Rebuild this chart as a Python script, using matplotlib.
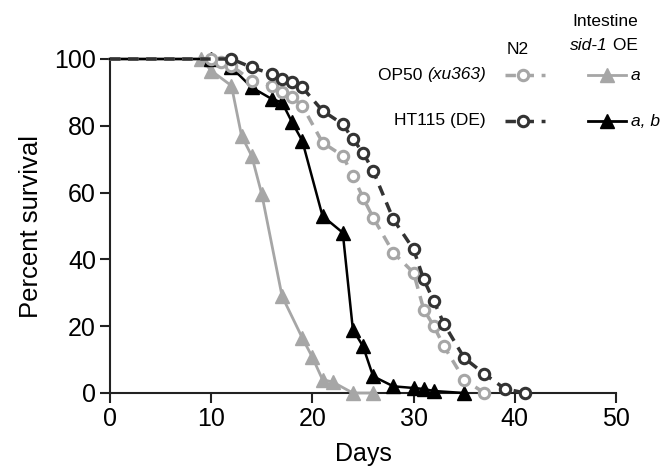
import matplotlib
matplotlib.use("Agg")
import matplotlib.pyplot as plt
from matplotlib.lines import Line2D

plt.rcParams['font.family'] = ['Liberation Sans', 'DejaVu Sans']

# ---- data ----
days_op50_n2 = [0, 10, 11, 12, 14, 16, 17, 18, 19, 21, 23, 24, 25, 26, 28, 30, 31, 32, 33, 35, 37]
surv_op50_n2 = [100, 100, 99, 98, 93.5, 92, 90, 88.5, 86, 75, 71, 65, 58.5, 52.5, 42, 36, 25, 20, 14, 4, 0]

days_ht_n2 = [0, 12, 14, 16, 17, 18, 19, 21, 23, 24, 25, 26, 28, 30, 31, 32, 33, 35, 37, 39, 41]
surv_ht_n2 = [100, 100, 97.5, 95.5, 94, 93, 91.5, 84.5, 80.5, 76, 72, 66.5, 52, 43, 34, 27.5, 20.7, 10.5, 5.7, 1.3, 0]

days_op50_sid = [0, 9, 10, 12, 13, 14, 15, 17, 19, 20, 21, 22, 24, 26]
surv_op50_sid = [100, 100, 96.5, 92, 77, 71, 59.5, 29, 16.5, 10.7, 4, 3.3, 0, 0]

days_ht_sid = [0, 10, 12, 14, 16, 17, 18, 19, 21, 23, 24, 25, 26, 28, 30, 31, 32, 35]
surv_ht_sid = [100, 100, 97.5, 91.5, 88, 87, 81, 75.5, 53, 48, 19, 14, 5, 2, 1.5, 1.2, 0.6, 0]

x_ticks = [0, 10, 20, 30, 40, 50]
y_ticks = [0, 20, 40, 60, 80, 100]

GRAY = '#a6a6a6'
DARK = '#333333'
BLACK = '#000000'

W, H = 667, 470
fig = plt.figure(figsize=(W / 100, H / 100), dpi=100)
ax = fig.add_axes([110 / W, 1 - 393 / H, (616 - 110) / W, (393 - 59) / H])

ax.plot(days_op50_sid, surv_op50_sid, color=GRAY, lw=2.0, marker='^', ms=10,
        mfc=GRAY, mec=GRAY, markevery=list(range(1, len(days_op50_sid))), clip_on=False, zorder=3)
ax.plot(days_ht_sid, surv_ht_sid, color=BLACK, lw=1.8, marker='^', ms=10,
        mfc=BLACK, mec=BLACK, markevery=list(range(1, len(days_ht_sid))), clip_on=False, zorder=4)
ax.plot(days_op50_n2, surv_op50_n2, color=GRAY, lw=2.5, ls=(0, (3, 2.2)), marker='o', ms=7.5,
        mfc='white', mec=GRAY, mew=2.2, markevery=list(range(1, len(days_op50_n2))), clip_on=False, zorder=5)
ax.plot(days_ht_n2, surv_ht_n2, color=DARK, lw=2.5, ls=(0, (3, 2.2)), marker='o', ms=7.5,
        mfc='white', mec=DARK, mew=2.2, markevery=list(range(1, len(days_ht_n2))), clip_on=False, zorder=6)

ax.set_xlim(0, 50)
ax.set_ylim(0, 100)
ax.set_xticks(x_ticks)
ax.set_yticks(y_ticks)
ax.tick_params(axis='both', labelsize=18, width=1.5, length=7, direction='out', color='#222222', pad=3)
for s in ['top', 'right']:
    ax.spines[s].set_visible(False)
for s in ['left', 'bottom']:
    ax.spines[s].set_linewidth(1.5)
    ax.spines[s].set_color('#222222')
ax.set_xlabel('Days', fontsize=18, labelpad=8)
ax.set_ylabel('Percent survival', fontsize=18.5, labelpad=8)

# ---- legend (manual) ----
def fx(px):
    return px / W

def fy(py):
    return 1 - py / H

fs = 12.5
renderer = fig.canvas.get_renderer()

def width_px(t):
    return t.get_window_extent(renderer=renderer).width

fig.text(fx(605), fy(22), 'Intestine', ha='center', va='center', fontsize=fs)

# "sid-1 OE" centered, with "sid-1" italic
a = fig.text(0, fy(46), 'sid-1', ha='left', va='center', fontsize=fs, style='italic')
b = fig.text(0, fy(46), ' OE', ha='left', va='center', fontsize=fs)
wa, wb = width_px(a), width_px(b)
left = 604 - (wa + wb) / 2
a.set_x(fx(left))
b.set_x(fx(left + wa))

fig.text(fx(518), fy(49), 'N2', ha='center', va='center', fontsize=fs)

c = fig.text(fx(486), fy(75), '(xu363)', ha='right', va='center', fontsize=fs, style='italic')
wc = width_px(c)
fig.text(fx(486 - wc), fy(75), 'OP50 ', ha='right', va='center', fontsize=fs)
fig.text(fx(486), fy(121), 'HT115 (DE)', ha='right', va='center', fontsize=fs)

rows = [(75, GRAY, GRAY, 'a'), (121, DARK, BLACK, 'a, b')]
for y, cN2, cSid, lab in rows:
    fig.add_artist(Line2D([fx(505), fx(545)], [fy(y), fy(y)], transform=fig.transFigure,
                          color=cN2, lw=2.5, ls=(0, (3, 2.2))))
    fig.add_artist(Line2D([fx(523)], [fy(y)], transform=fig.transFigure, color=cN2,
                          marker='o', ms=7.5, mfc='white', mec=cN2, mew=2.2, ls='none'))
    fig.add_artist(Line2D([fx(588), fx(626)], [fy(y), fy(y)], transform=fig.transFigure,
                          color=cSid, lw=2.0))
    fig.add_artist(Line2D([fx(607)], [fy(y)], transform=fig.transFigure, color=cSid,
                          marker='^', ms=10, mfc=cSid, mec=cSid, ls='none'))
    fig.text(fx(631), fy(y), lab, ha='left', va='center', fontsize=fs, style='italic')

fig.savefig('out.png', dpi=100)
